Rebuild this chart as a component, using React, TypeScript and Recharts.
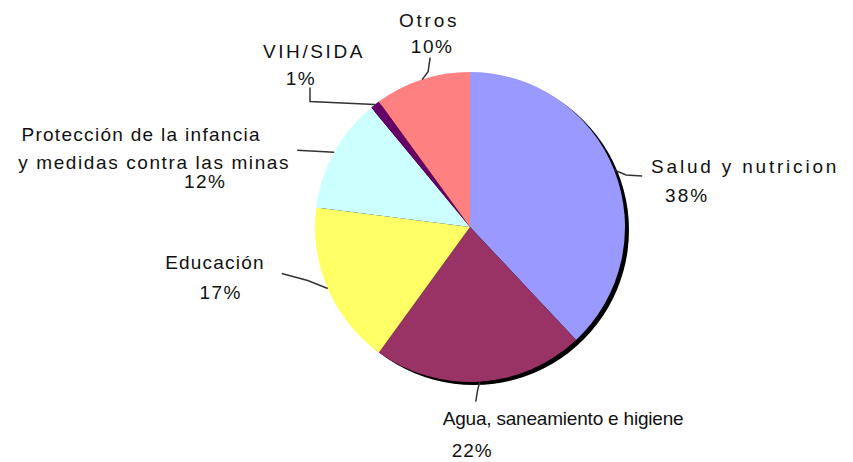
import { Cell, Pie, PieChart } from 'recharts';

const categories = [
  'Salud y nutricion',
  'Agua, saneamiento e higiene',
  'Educación',
  'Protección de la infancia y medidas contra las minas',
  'VIH/SIDA',
  'Otros',
];
const shares = [38, 22, 17, 12, 1, 10];
const colors = ['#9999FF', '#993366', '#FFFF66', '#CCFFFF', '#660066', '#FF8080'];

const data = categories.map((name, i) => ({ name, value: shares[i] }));

// label layout, relative to the point where each slice's mid-angle meets the rim
type TextLine = { text: string; dx: number; dy: number; anchor: 'start' | 'middle' | 'end'; ls: number };
const labelLayout: Record<string, { line: [number, number][]; texts: (pct: string) => TextLine[] }> = {
  'Salud y nutricion': {
    line: [[0, 0], [12, 5], [28, 6]],
    texts: (p) => [
      { text: 'Salud y nutricion', dx: 37, dy: 3, anchor: 'start', ls: 2.8 },
      { text: p, dx: 51, dy: 32, anchor: 'start', ls: 2 },
    ],
  },
  'Agua, saneamiento e higiene': {
    line: [[0, 0], [-2, 8], [-4, 20]],
    texts: (p) => [
      { text: 'Agua, saneamiento e higiene', dx: -37, dy: 43, anchor: 'start', ls: -0.2 },
      { text: p, dx: -28, dy: 75, anchor: 'start', ls: 1 },
    ],
  },
  'Educación': {
    line: [[0, 0], [-20, -8], [-46, -15]],
    texts: (p) => [
      { text: 'Educación', dx: -63, dy: -20, anchor: 'end', ls: 1.2 },
      { text: p, dx: -107, dy: 10, anchor: 'middle', ls: 1.5 },
    ],
  },
  'Protección de la infancia y medidas contra las minas': {
    line: [[0, 0], [-37, -2]],
    texts: (p) => [
      { text: 'Protección de la infancia', dx: -193, dy: -11, anchor: 'middle', ls: 1.3 },
      { text: 'y medidas contra las minas', dx: -180, dy: 17, anchor: 'middle', ls: 1.6 },
      { text: p, dx: -129, dy: 36, anchor: 'middle', ls: 1.5 },
    ],
  },
  'VIH/SIDA': {
    line: [[0, 0], [-65, -3], [-65, -17]],
    texts: (p) => [
      { text: 'VIH/SIDA', dx: -61, dy: -47, anchor: 'middle', ls: 2.6 },
      { text: p, dx: -74, dy: -20, anchor: 'middle', ls: 1.5 },
    ],
  },
  Otros: {
    line: [[0, 0], [6, -8], [8, -22]],
    texts: (p) => [
      { text: 'Otros', dx: 7, dy: -53, anchor: 'middle', ls: 2.8 },
      { text: p, dx: 10, dy: -27, anchor: 'middle', ls: 1.5 },
    ],
  },
};

const RADIAN = Math.PI / 180;

function SliceLabel(props: any) {
  const { cx, cy, midAngle, outerRadius, name, value } = props;
  const layout = labelLayout[name];
  if (!layout) return null;
  const ex = cx + outerRadius * Math.cos(-midAngle * RADIAN);
  const ey = cy + outerRadius * Math.sin(-midAngle * RADIAN);
  const d = layout.line.map(([x, y], i) => `${i === 0 ? 'M' : 'L'}${ex + x},${ey + y}`).join(' ');
  return (
    <g>
      <path d={d} stroke="#333" strokeWidth={1.5} fill="none" />
      {layout.texts(`${value}%`).map((t) => (
        <text
          key={t.text}
          x={ex + t.dx}
          y={ey + t.dy}
          textAnchor={t.anchor}
          fill="#111"
          fontSize={19}
          fontFamily="'Liberation Sans', Arial, sans-serif"
          letterSpacing={t.ls}
        >
          {t.text}
        </text>
      ))}
    </g>
  );
}

export default function App() {
  return (
    <div style={{ position: 'absolute', left: 0, top: 0, width: 853, height: 462, background: '#fff' }}>
      <PieChart width={853} height={462}>
        <Pie
          data={[{ name: 'shadow', value: 1 }]}
          dataKey="value"
          cx={469}
          cy={225}
          outerRadius={155}
          fill="#000"
          stroke="none"
          isAnimationActive={false}
        />
        <Pie
          data={data}
          dataKey="value"
          nameKey="name"
          cx={465}
          cy={222}
          outerRadius={155}
          startAngle={90}
          endAngle={-270}
          stroke="none"
          label={SliceLabel}
          labelLine={false}
          isAnimationActive={false}
        >
          {data.map((d, i) => (
            <Cell key={d.name} fill={colors[i]} />
          ))}
        </Pie>
      </PieChart>
    </div>
  );
}
